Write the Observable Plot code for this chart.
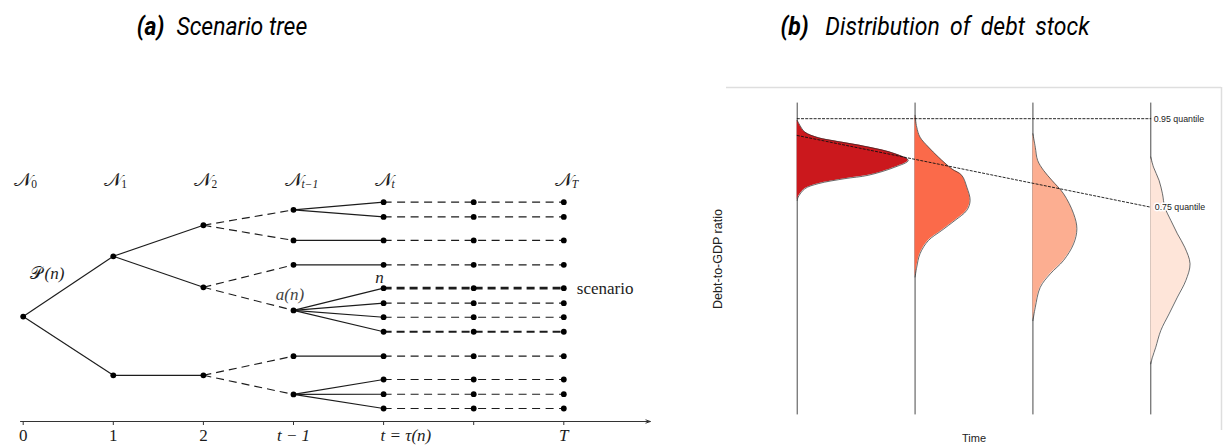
<!DOCTYPE html>
<html>
<head>
<meta charset="utf-8">
<script src="https://cdn.jsdelivr.net/npm/d3@7"></script>
<script src="https://cdn.jsdelivr.net/npm/@observablehq/plot@0.6"></script>
<style>
  body { margin: 0; background: #fff; }
  #page { position: relative; width: 1223px; height: 446px; overflow: hidden; background: #fff; }
  .title { position: absolute; top: 12px; font-family: Roboto, "Open Sans", sans-serif; font-style: italic;
           font-size: 25px; line-height: 30px; color: #000; white-space: nowrap;
           transform: translateX(-50%) scaleX(0.92); }
  .title b { font-weight: 700; margin-right: 7px; }
  #tree { position: absolute; left: 0; top: 150px; }
  #dist { position: absolute; left: 700px; top: 80px; }
</style>
</head>
<body>
<div id="page">
  <div class="title" style="left:222px"><b>(a)</b> Scenario tree</div>
  <div class="title" style="left:935px; word-spacing:5px"><b>(b)</b> Distribution of debt stock</div>
  <div id="tree"></div>
  <div id="dist"></div>
</div>
<script>
// ---------- (a) scenario tree ----------
// vertical position of every node, one list per stage (0, 1, 2, t-1, t)
const stageY = [
  [47.7],
  [75.1, 21.0],
  [89.2, 61.0, 21.0],
  [96.2, 82.3, 71.2, 50.5, 29.7, 12.3],
  [99.7, 93.0, 82.3, 71.2, 60.6, 53.8, 47.4, 40.8, 29.7, 19.1, 12.4, 5.9]
];
// index of each node's parent in the previous stage
const parentIndex = [
  [],
  [0, 0],
  [0, 0, 1],
  [0, 0, 1, 1, 2, 2],
  [0, 0, 1, 2, 3, 3, 3, 3, 4, 5, 5, 5]
];
const dashedInto = [3];                // stage whose incoming branches are dashed
const leafStages = [4, 5, 6];          // leaves carried forward to T
const scenarioLeaf = 4;                // highlighted scenario path
const emphasisLeaves = [7];            // second emphasised path
const tickStages = [0, 1, 2, 3, 4, 5, 6];
const numberTicks = [0, 1, 2];
const numberTickText = ["0", "1", "2"];
const symbolTicks = [3, 6];
const symbolTickText = ["t − 1", "T"];
const tauTick = [4];
const tauTickText = ["t = τ(n)"];
const headerStages = [0, 1, 2, 3, 4, 6];
const headerSubs = ["0", "1", "2", "t−1", "t", "T"];
const headerLevel = 110;
const axisExtent = [-0.03, 6.96];
const pathLabel = [{stage: 0.28, y: 67.4}];
const ancestorLabel = [{stage: 2.96, y: 57.7, text: "a(n)"}];
const nodeLabel = [{stage: 3.955, y: 65.3, text: "n"}];
const scenarioLabel = [{stage: 6, y: 60.6, text: "scenario"}];

const nodes = [];
stageY.forEach((ys, s) => ys.forEach(y => nodes.push({x: s, y})));
const leaves = stageY[4];
leafStages.slice(1).forEach(s => leaves.forEach(y => nodes.push({x: s, y})));

const solidEdges = [], dashedEdges = [];
for (let s = 1; s < stageY.length; s++) {
  stageY[s].forEach((y, i) => {
    const e = {x1: s - 1, y1: stageY[s - 1][parentIndex[s][i]], x2: s, y2: y};
    (dashedInto.includes(s) ? dashedEdges : solidEdges).push(e);
  });
}
const leafEdges = leaves.map((y, i) => ({x1: leafStages[0], x2: leafStages[2], y1: y, y2: y, i}));
const plainLeaf = leafEdges.filter(d => d.i !== scenarioLeaf && !emphasisLeaves.includes(d.i));
const emphLeaf = leafEdges.filter(d => emphasisLeaves.includes(d.i));
const scenLeaf = leafEdges.filter(d => d.i === scenarioLeaf);

const serif = "'Liberation Serif', 'DejaVu Serif', serif";
const ink = "#1c1c1c";
const linkOpts = {x1: "x1", y1: "y1", x2: "x2", y2: "y2", stroke: ink};
const isDigit = s => /^[0-9]+$/.test(s);

const tree = Plot.plot({
  width: 665, height: 296,
  marginLeft: 22.7, marginRight: 101.7, marginTop: 7, marginBottom: 25,
  x: {domain: [0, 6], axis: null},
  y: {domain: [0, 120], axis: null},
  marks: [
    Plot.link(solidEdges, {...linkOpts, strokeWidth: 1.15}),
    Plot.link(dashedEdges, {...linkOpts, strokeWidth: 1.15, strokeDasharray: "8,5"}),
    Plot.link(plainLeaf, {...linkOpts, strokeWidth: 1.15, strokeDasharray: "8,5.5"}),
    Plot.link(emphLeaf, {...linkOpts, strokeWidth: 2.1, strokeDasharray: "8,5"}),
    Plot.link(scenLeaf, {...linkOpts, strokeWidth: 2.8, strokeDasharray: "8,5"}),
    Plot.dot(nodes, {x: "x", y: "y", r: 2.9, fill: "#000"}),
    // time axis with arrow head
    Plot.arrow([axisExtent], {x1: d => d[0], x2: d => d[1], y1: () => 0, y2: () => 0,
      stroke: "#333", strokeWidth: 1, headLength: 7, headAngle: 40}),
    Plot.axisX({ticks: tickStages, tickFormat: () => "", tickSize: 4, stroke: "#333", label: null}),
    Plot.text(numberTicks, {x: d => d, y: () => 0, dy: 14, text: (d, i) => numberTickText[i],
      fontFamily: serif, fontSize: 17, fill: ink}),
    Plot.text(symbolTicks, {x: d => d, y: () => 0, dy: 14, text: (d, i) => symbolTickText[i],
      fontFamily: serif, fontStyle: "italic", fontSize: 17, fill: ink}),
    Plot.text(tauTick, {x: d => d, y: () => 0, dy: 14, dx: -3, textAnchor: "start", text: (d, i) => tauTickText[i],
      fontFamily: serif, fontStyle: "italic", fontSize: 17, fill: ink}),
    // stage headers N_0 ... N_T
    Plot.text(headerStages, {x: d => d, y: () => headerLevel, text: () => "𝒩",
      fontFamily: serif, fontSize: 19, fill: ink}),
    Plot.text(headerStages.filter((d, i) => isDigit(headerSubs[i])), {x: d => d, y: () => headerLevel, dx: 8, dy: 5,
      textAnchor: "start", text: d => headerSubs[headerStages.indexOf(d)], fontFamily: serif, fontSize: 11.5, fill: ink}),
    Plot.text(headerStages.filter((d, i) => !isDigit(headerSubs[i])), {x: d => d, y: () => headerLevel, dx: 8, dy: 5,
      textAnchor: "start", text: d => headerSubs[headerStages.indexOf(d)], fontFamily: serif, fontStyle: "italic",
      fontSize: 11.5, fill: ink}),
    // path label 𝒫(n)
    Plot.text(pathLabel, {x: "stage", y: "y", text: () => "𝒫", dx: -12, fontFamily: serif, fontSize: 17, fill: ink}),
    Plot.text(pathLabel, {x: "stage", y: "y", text: () => "(n)", dx: 6, fontFamily: serif, fontStyle: "italic",
      fontSize: 17, fill: ink}),
    Plot.text(ancestorLabel, {x: "stage", y: "y", text: "text", fontFamily: serif, fontStyle: "italic", fontSize: 17, fill: "#444"}),
    Plot.text(nodeLabel, {x: "stage", y: "y", text: "text", fontFamily: serif, fontStyle: "italic", fontSize: 17, fill: ink}),
    Plot.text(scenarioLabel, {x: "stage", y: "y", text: "text", dx: 13, textAnchor: "start",
      fontFamily: serif, fontSize: 17, fill: ink})
  ]
});
document.getElementById("tree").appendChild(tree);

// ---------- (b) distribution of debt stock ----------
const times = [0, 1, 2, 3];
const fills = ["#cb181d", "#fb6a4a", "#fcae91", "#fee5d9"];
const baselineSpan = [45, 175];
// [debt-to-GDP level, density width] for each horizon
const density0 = [[167.8, 0], [165.7, 0.023], [162.9, 0.065], [160.6, 0.178], [159.2, 0.320], [156.7, 0.602],
  [153.9, 0.829], [151.1, 0.942], [148.3, 0.829], [144.9, 0.602], [143.5, 0.405], [141.4, 0.178],
  [139.3, 0.065], [135.8, 0.008], [134.4, 0]];
const density1 = [[169.9, 0], [165.0, 0.014], [160.8, 0.042], [156.7, 0.113], [152.5, 0.198], [147.6, 0.311],
  [144.9, 0.396], [140.0, 0.439], [134.4, 0.467], [130.3, 0.439], [126.1, 0.339], [121.9, 0.226],
  [117.7, 0.113], [112.2, 0.042], [106.6, 0.014], [102.5, 0]];
const density2 = [[162.2, 0], [156.6, 0.020], [151.1, 0.040], [146.9, 0.091], [142.8, 0.161], [137.2, 0.260],
  [128.9, 0.345], [122.6, 0.373], [116.3, 0.345], [109.4, 0.260], [103.8, 0.147], [98.2, 0.062],
  [89.9, 0.020], [84.3, 0]];
const density3 = [[152.5, 0], [148.3, 0.023], [142.8, 0.070], [137.2, 0.099], [131.6, 0.119], [126.1, 0.170],
  [120.5, 0.226], [114.9, 0.288], [108.0, 0.333], [101.0, 0.297], [94.1, 0.226], [87.1, 0.155],
  [80.2, 0.085], [73.2, 0.042], [69.0, 0.014], [66.3, 0]];
const densities = [density0, density1, density2, density3];
const quantileTimes = [0, 3];
const quantile95 = [168.5, 168.5];
const quantile75 = [161.5, 131.6];
const xDomain = [-0.6, 3.6];
const yDomain = [38.5, 181.5];

const sans = "'Liberation Sans', Arial, sans-serif";
const densityMarks = densities.flatMap((rows, k) => {
  const t = times[k];
  return [
    Plot.areaX(rows, {y: d => d[0], x1: () => t, x2: d => t + d[1], fill: fills[k], curve: "catmull-rom"}),
    Plot.line(rows, {y: d => d[0], x: d => t + d[1], stroke: "#2a2a2a", strokeWidth: 0.7, curve: "catmull-rom"})
  ];
});
const q95 = quantileTimes.map((t, i) => ({t, v: quantile95[i]}));
const q75 = quantileTimes.map((t, i) => ({t, v: quantile75[i]}));

const dist = Plot.plot({
  width: 523, height: 366,
  marginLeft: 26, marginRight: 2, marginTop: 7, marginBottom: 16,
  x: {domain: xDomain, axis: null},
  y: {domain: yDomain, axis: null},
  marks: [
    Plot.ruleY([yDomain[1]], {stroke: "#dedede", strokeWidth: 1.5}),
    Plot.ruleX([xDomain[1]], {stroke: "#dedede", strokeWidth: 1.5}),
    Plot.ruleX(times, {y1: () => baselineSpan[0], y2: () => baselineSpan[1], stroke: "#4a4a4a", strokeWidth: 1}),
    ...densityMarks,
    Plot.line(q95, {x: "t", y: "v", stroke: "#111", strokeWidth: 0.9, strokeDasharray: "2.2,2"}),
    Plot.line(q75, {x: "t", y: "v", stroke: "#111", strokeWidth: 0.9, strokeDasharray: "2.2,2"}),
    Plot.text(q95.slice(-1), {x: "t", y: "v", text: () => "0.95 quantile", dx: 3, textAnchor: "start",
      fontFamily: sans, fontSize: 8.8, fill: "#222"}),
    Plot.text(q75.slice(-1), {x: "t", y: "v", text: () => "0.75 quantile", dx: 4, textAnchor: "start",
      fontFamily: sans, fontSize: 8.8, fill: "#222", stroke: "#fff", strokeWidth: 3, paintOrder: "stroke"}),
    Plot.text(["Debt-to-GDP ratio"], {text: d => d, frameAnchor: "left", dx: -9, rotate: -90,
      textAnchor: "middle", lineAnchor: "middle", fontFamily: sans, fontSize: 12.5, fill: "#222"}),
    Plot.text(["Time"], {text: d => d, frameAnchor: "bottom", dy: 8, textAnchor: "middle",
      lineAnchor: "middle", fontFamily: sans, fontSize: 11, fill: "#222"})
  ]
});
document.getElementById("dist").appendChild(dist);
</script>
</body>
</html>
